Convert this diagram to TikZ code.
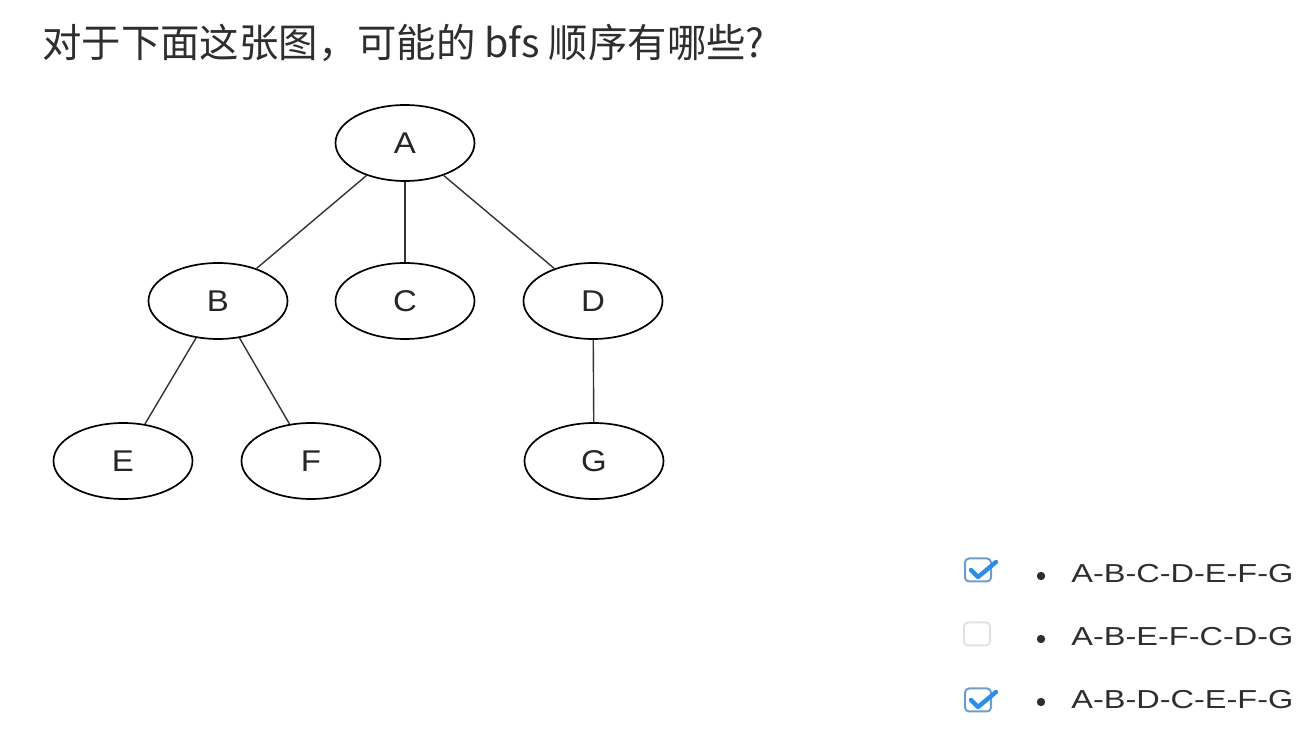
\documentclass[tikz,border=0pt]{standalone}
\usepackage{fontspec}
\setmainfont{Liberation Sans}
\newfontfamily\cjkfont{Noto Sans CJK SC}
\newfontfamily\labelfont[FakeStretch=1.1]{Liberation Sans}
\newfontfamily\optfont[FakeStretch=1.25]{Liberation Sans}
\usetikzlibrary{shapes.geometric}
\definecolor{darktext}{HTML}{2E2E2E}
\definecolor{checkblue}{HTML}{2E8DE6}
\definecolor{boxblue}{HTML}{6F9CCB}
\definecolor{boxgray}{HTML}{E2E2E2}
\tikzset{
  vertex/.style={ellipse, draw, line width=0.85pt, minimum width=69.5pt, minimum height=38pt,
    inner sep=0pt, font=\labelfont\fontsize{15}{18}\selectfont, text=black!85},
  edge/.style={line width=0.7pt, black!80},
  tickbox/.style={rectangle, rounded corners=2pt, line width=1pt, minimum width=13pt,
    minimum height=11.5pt, inner sep=0pt},
  tick/.style={checkblue, line width=2.2pt, line cap=round, line join=round},
  bullet/.style={circle, fill=darktext, inner sep=0pt, minimum size=4.2pt},
  answer/.style={anchor=base west, inner sep=0pt, font=\optfont\fontsize{13}{15}\selectfont, text=darktext}
}
\begin{document}
\begin{tikzpicture}[x=0.5pt, y=-0.5pt]
  %\draw[lightgray] (0, 0) grid[step=100] (1302, 742);
  \useasboundingbox (0, 0) rectangle (1302, 742);
  \node[anchor=base west, inner sep=0pt, font=\cjkfont\fontsize{19.7}{22}\selectfont, text=darktext]
    (title) at (42, 58) {对于下面这张图，可能的 bfs 顺序有哪些?};
  % the tree
  \node[vertex] (A) at (405, 143) {A};
  \node[vertex] (B) at (218, 301) {B};
  \node[vertex] (C) at (405, 301) {C};
  \node[vertex] (D) at (593, 301) {D};
  \node[vertex] (E) at (123, 461) {E};
  \node[vertex] (F) at (311, 461) {F};
  \node[vertex] (G) at (594, 461) {G};
  \draw[edge] (A) -- (B);
  \draw[edge] (A) -- (C);
  \draw[edge] (A) -- (D);
  \draw[edge] (B) -- (E);
  \draw[edge] (B) -- (F);
  \draw[edge] (D) -- (G);
  % the answers
  \node[tickbox, draw=boxblue] (box1) at (978, 570) {};
  \draw[tick] ([shift={(-7, 0)}]box1.center) -- ++(7, 7) -- ++(18, -15);
  \node[tickbox, draw=boxgray] (box2) at (977, 634) {};
  \node[tickbox, draw=boxblue] (box3) at (978, 700) {};
  \draw[tick] ([shift={(-7, 0)}]box3.center) -- ++(7, 7) -- ++(18, -15);
  \node[bullet] (dot1) at (1041, 576) {};
  \node[bullet] (dot2) at (1041, 639) {};
  \node[bullet] (dot3) at (1041, 702) {};
  \node[answer] (opt1) at (1071, 583) {A-B-C-D-E-F-G};
  \node[answer] (opt2) at (1071, 646) {A-B-E-F-C-D-G};
  \node[answer] (opt3) at (1071, 709) {A-B-D-C-E-F-G};
\end{tikzpicture}
\end{document}
